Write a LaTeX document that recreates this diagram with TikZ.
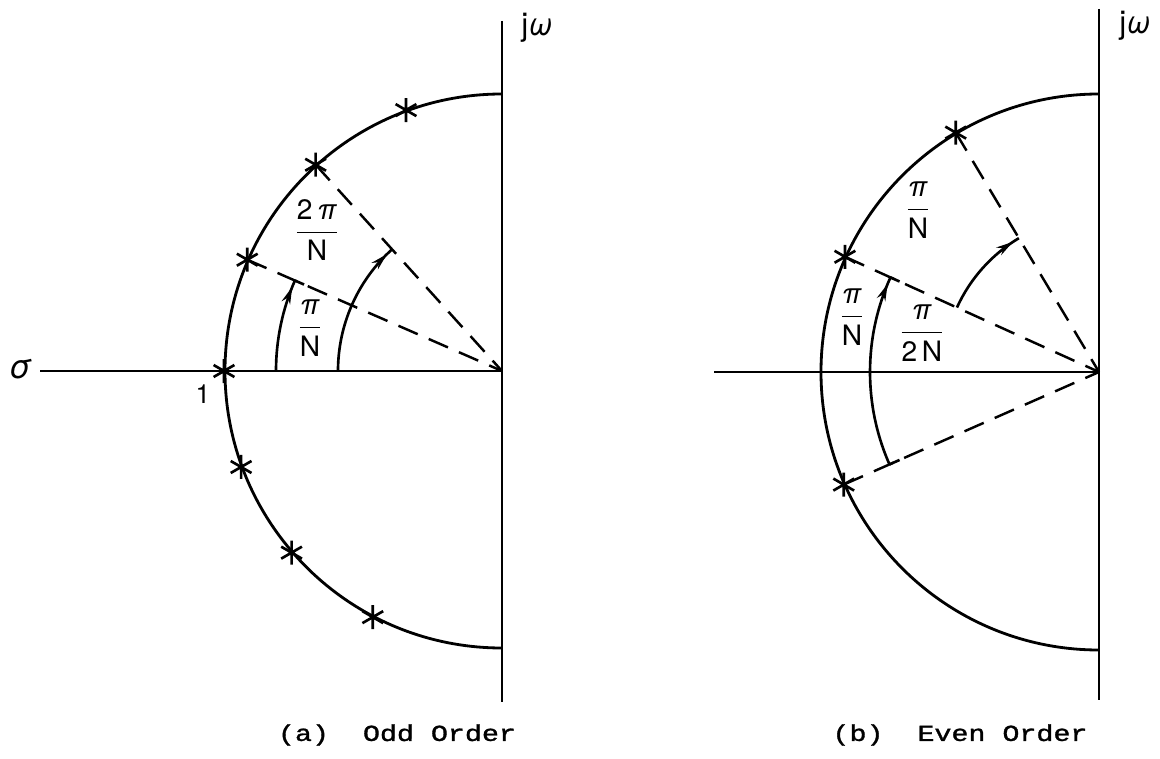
\documentclass[tikz,border=0pt]{standalone}
\usepackage{amsmath}
\usepackage{graphicx}
\usepackage{fontspec}
\setsansfont{TeX Gyre Heros}
\setmonofont[FakeBold=1.2]{Liberation Mono}
\usepackage{tikz}
\usetikzlibrary{arrows.meta, decorations.markings, calc}

\newcommand{\gpi}{\textsf{\textit{π}}}
\tikzset{polemark/.pic={\draw[line width=1.5pt] (90:12) -- (270:12) (30:12) -- (210:12) (150:12) -- (330:12);}}

\begin{document}
\begin{tikzpicture}[x=0.2mm, y=0.2mm,
        axisline/.style={line width=1.6pt},
        rim/.style={line width=1.6pt},
        spoke/.style={line width=1.4pt, dash pattern=on 4.2mm off 2.4mm},
        anglearc/.style={line width=1.5pt, postaction={decorate}, decoration={markings, mark=at position -1.4mm with {\arrow{Stealth[length=3.4mm, width=1.8mm]}}}},
        tick/.style={line width=1.5pt},
        lbl/.style={font=\sffamily\fontsize{16}{19}\selectfont, inner sep=1pt},
        caption/.style={font=\ttfamily\fontsize{13}{15}\selectfont}
    ]
        \useasboundingbox (0,0) rectangle (1160,758);

        % (a) odd order
        \coordinate (O1) at (502,387);
        \draw[axisline] (502,737) -- (502,56);
        \draw[axisline] (40,387) -- (O1);
        \draw[rim] ($(O1)+(90:277)$) arc[start angle=90, end angle=270, radius=277];
        \foreach \a [count=\i] in {180,156.4,132.1,110.2,200.2,220.8,242.3}
            \path ($(O1)+(\a:278)$) coordinate (pa\i) pic {polemark};
        \draw[spoke] (pa2) -- (O1);
        \draw[spoke] (pa3) -- (O1);
        \draw[anglearc] ($(O1)+(180:226)$) arc[start angle=180, end angle=156.4, radius=226];
        \draw[tick] ($(O1)+(156.4:226)$) -- ($(O1)+(156.4:216)$);
        \draw[anglearc] ($(O1)+(180:164)$) arc[start angle=180, end angle=132.1, radius=164];
        \node[lbl] (twopiN) at (317,528) {$\dfrac{\textsf{2}\,\gpi}{\textsf{N}}$};
        \node[lbl] (piNa) at (310,430) {$\dfrac{\gpi}{\textsf{N}}$};
        \node[lbl, font=\sffamily\itshape\fontsize{19}{22}\selectfont] (sigma) at (20,389) {σ};
        \node[lbl, font=\sffamily\fontsize{15}{18}\selectfont] (one) at (203,364) {1};
        \node[lbl, font=\sffamily\fontsize{18}{21}\selectfont] (jwa) at (537,730) {j\textit{ω}};
        \node[caption] (capa) at (397,23) {\scalebox{1.24}[1]{(a)\ \ Odd Order}};

        % (b) even order
        \coordinate (O2) at (1099,386);
        \draw[axisline] (1099,749) -- (1099,58);
        \draw[axisline] (714,386) -- (O2);
        \draw[rim] ($(O2)+(90:278)$) arc[start angle=90, end angle=270, radius=278];
        \foreach \a [count=\i] in {155.6,120.9,203.8}
            \path ($(O2)+(\a:279)$) coordinate (pb\i) pic {polemark};
        \foreach \i in {1,2,3}
            \draw[spoke] (pb\i) -- (O2);
        \draw[anglearc] ($(O2)+(203.8:229)$) arc[start angle=203.8, end angle=155.6, radius=229];
        \draw[tick] ($(O2)+(203.8:229)$) -- ($(O2)+(203.8:218)$);
        \draw[tick] ($(O2)+(155.6:229)$) -- ($(O2)+(155.6:219)$);
        \draw[anglearc] ($(O2)+(155.6:156)$) arc[start angle=155.6, end angle=120.9, radius=156];
        \node[lbl] (piNb) at (918,548) {$\dfrac{\gpi}{\textsf{N}}$};
        \node[lbl] (piNc) at (852,441) {$\dfrac{\gpi}{\textsf{N}}$};
        \node[lbl] (pi2N) at (922,425) {$\dfrac{\gpi}{\textsf{2\,N}}$};
        \node[lbl, font=\sffamily\fontsize{18}{21}\selectfont] (jwb) at (1135,732) {j\textit{ω}};
        \node[caption] (capb) at (960,23) {\scalebox{1.24}[1]{(b)\ \ Even Order}};
    \end{tikzpicture}
\end{document}
